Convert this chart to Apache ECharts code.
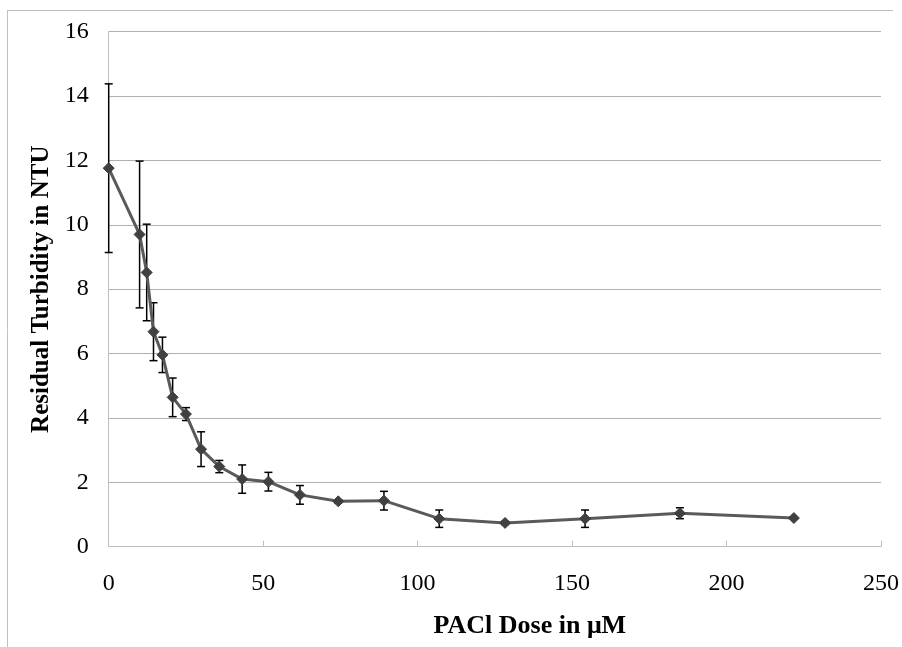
<!DOCTYPE html>
<html>
<head>
<meta charset="utf-8">
<script src="https://cdn.jsdelivr.net/npm/echarts@6/dist/echarts.min.js"></script>
<style>
html,body{margin:0;padding:0;background:#fff;}
#chart{width:902px;height:647px;}
</style>
</head>
<body>
<div id="chart"></div>
<script>
const doses = [0, 10, 12.3, 14.5, 17.4, 20.7, 25, 29.9, 35.8, 43.2, 51.7, 61.9, 74.3, 89.1, 107, 128.3, 154.2, 184.9, 221.8];
const turbidity = [11.76, 9.70, 8.52, 6.68, 5.96, 4.64, 4.12, 3.03, 2.49, 2.10, 2.02, 1.61, 1.41, 1.43, 0.87, 0.74, 0.87, 1.04, 0.89];
const errors = [2.62, 2.28, 1.5, 0.9, 0.55, 0.6, 0.2, 0.54, 0.19, 0.44, 0.29, 0.29, 0.05, 0.29, 0.27, 0.05, 0.27, 0.17, 0.03];
const xTitle = 'PACl Dose in μM';
const yTitle = 'Residual Turbidity in NTU';

const lineData = doses.map((d, i) => [d, turbidity[i]]);
const errData = doses.map((d, i) => [d, turbidity[i] - errors[i], turbidity[i] + errors[i]]);

const chart = echarts.init(document.getElementById('chart'), null, {renderer: 'canvas'});
const font = 'Liberation Serif';
chart.setOption({
  animation: false,
  backgroundColor: '#fff',
  graphic: [
    {type: 'line', shape: {x1: 7, y1: 10.5, x2: 893, y2: 10.5}, style: {stroke: '#c0c0c0', lineWidth: 1}},
    {type: 'line', shape: {x1: 7.5, y1: 10, x2: 7.5, y2: 647}, style: {stroke: '#c0c0c0', lineWidth: 1}}
  ],
  grid: {left: 108.7, right: 21, top: 31.7, bottom: 100.3},
  xAxis: {
    type: 'value', min: 0, max: 250, interval: 50,
    name: xTitle, nameLocation: 'middle', nameGap: 67,
    nameTextStyle: {fontFamily: font, fontSize: 26, fontWeight: 'bold', color: '#000', padding: [0, 0, 0, 70]},
    axisLine: {show: true, lineStyle: {color: '#bfbfbf', width: 1}},
    axisTick: {show: true, inside: true, length: 6, lineStyle: {color: '#bfbfbf'}},
    axisLabel: {fontFamily: font, fontSize: 24, color: '#000', margin: 25},
    splitLine: {show: false}
  },
  yAxis: {
    type: 'value', min: 0, max: 16, interval: 2,
    name: yTitle, nameLocation: 'middle', nameGap: 54, nameRotate: 90,
    nameTextStyle: {fontFamily: font, fontSize: 25, fontWeight: 'bold', color: '#000'},
    axisLine: {show: true, lineStyle: {color: '#bfbfbf', width: 1}},
    axisTick: {show: false},
    axisLabel: {fontFamily: font, fontSize: 24, color: '#000', margin: 20},
    splitLine: {show: true, lineStyle: {color: '#b0b0b0', width: 1}}
  },
  series: [
    {
      type: 'custom',
      z: 1,
      data: errData,
      renderItem: function (params, api) {
        const x = api.value(0);
        const lo = api.coord([x, api.value(1)]);
        const hi = api.coord([x, api.value(2)]);
        const w = 4;
        const st = {stroke: '#000', lineWidth: 1.5};
        return {
          type: 'group',
          children: [
            {type: 'line', shape: {x1: lo[0], y1: lo[1], x2: hi[0], y2: hi[1]}, style: st},
            {type: 'line', shape: {x1: lo[0] - w, y1: lo[1], x2: lo[0] + w, y2: lo[1]}, style: st},
            {type: 'line', shape: {x1: hi[0] - w, y1: hi[1], x2: hi[0] + w, y2: hi[1]}, style: st}
          ]
        };
      }
    },
    {
      type: 'line',
      z: 2,
      data: lineData,
      symbol: 'diamond',
      symbolSize: 11,
      lineStyle: {color: '#5a5a5a', width: 3},
      itemStyle: {color: '#404040', borderColor: '#404040'}
    }
  ]
});
</script>
</body>
</html>
